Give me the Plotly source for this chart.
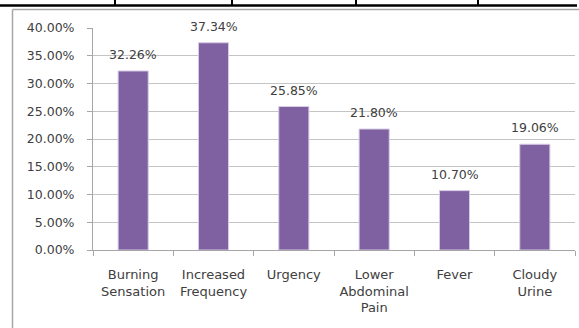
import plotly.graph_objects as go

# Symptom frequencies (percent of patients)
categories = ["Burning<br>Sensation", "Increased<br>Frequency", "Urgency",
              "Lower<br>Abdominal<br>Pain", "Fever", "Cloudy<br>Urine"]
values = [32.26, 37.34, 25.85, 21.80, 10.70, 19.06]
y_ticks = [0, 5, 10, 15, 20, 25, 30, 35, 40]
y_tick_text = [f"{v:.2f}%" for v in y_ticks]

W, H = 579, 328
ML, MR, MT, MB = 93, 4, 28, 78
PW, PH = W - ML - MR, H - MT - MB

FONT = "'DejaVu Sans', sans-serif"
TEXT = "#404040"
BAR = "#7f60a0"
FRAME = "#a6a6a6"


def px_x(px):
    return (px - ML) / PW


def px_y(py):
    return (H - MB - py) / PH


fig = go.Figure(go.Bar(
    x=categories,
    y=values,
    marker=dict(color=BAR, line=dict(color="#d8cde6", width=1)),
    width=0.375,
    hoverinfo="x+y",
))

annotations = [
    dict(x=c, y=v, xref="x", yref="y", text=f"{v:.2f}%", showarrow=False,
         yanchor="bottom", yshift=7, font=dict(family=FONT, size=12.5, color=TEXT))
    for c, v in zip(categories, values)
]

shapes = [
    # chart frame: top and left edges
    dict(type="line", xref="paper", yref="paper",
         x0=px_x(12.5), x1=px_x(579), y0=px_y(9.5), y1=px_y(9.5),
         line=dict(color=FRAME, width=1.5)),
    dict(type="line", xref="paper", yref="paper",
         x0=px_x(12.5), x1=px_x(12.5), y0=px_y(9.5), y1=px_y(340),
         line=dict(color=FRAME, width=1.5)),
    # table rule above the chart
    dict(type="line", xref="paper", yref="paper",
         x0=px_x(0), x1=px_x(577), y0=px_y(5.5), y1=px_y(5.5),
         line=dict(color="#000000", width=2.5)),
]
for xv in [115, 232, 356, 478]:
    shapes.append(dict(type="line", xref="paper", yref="paper",
                       x0=px_x(xv), x1=px_x(xv), y0=px_y(-2), y1=px_y(5.5),
                       line=dict(color="#000000", width=2)))

fig.update_layout(
    width=W, height=H,
    margin=dict(l=ML, r=MR, t=MT, b=MB, autoexpand=False),
    paper_bgcolor="white", plot_bgcolor="white",
    showlegend=False,
    font=dict(family=FONT, size=12.5, color=TEXT),
    annotations=annotations,
    shapes=shapes,
    xaxis=dict(
        type="category",
        showgrid=False,
        showline=True, linecolor=FRAME, linewidth=1,
        ticks="outside", ticklen=5, tickcolor=FRAME, tickson="boundaries",
        ticklabelstandoff=12,
        tickfont=dict(family=FONT, size=13, color=TEXT),
        fixedrange=True,
    ),
    yaxis=dict(
        range=[0, 40],
        tickvals=y_ticks, ticktext=y_tick_text,
        showgrid=True, gridcolor="#c4c4c4", gridwidth=1,
        showline=True, linecolor=FRAME, linewidth=1,
        ticks="outside", ticklen=5, tickcolor=FRAME,
        ticklabelstandoff=10,
        tickfont=dict(family=FONT, size=12.5, color=TEXT),
        zeroline=False,
        fixedrange=True,
    ),
)

fig.write_html("out.html", config={"displayModeBar": False})
